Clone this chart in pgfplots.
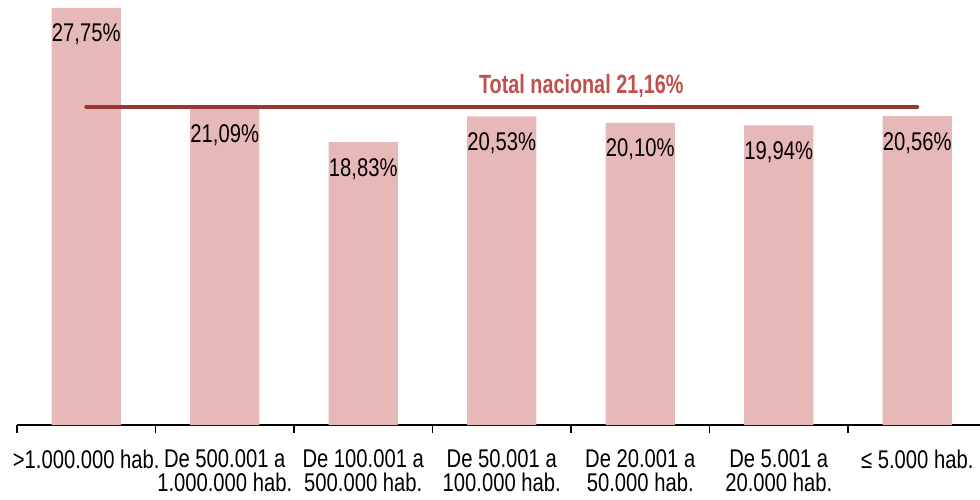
\documentclass[border=0pt]{standalone}
\usepackage{fontspec}
\setmainfont{Liberation Sans}
\newfontfamily\narrowfont[FakeStretch=0.79]{Liberation Sans}
\newfontfamily\narrowbold[FakeStretch=0.75]{Liberation Sans Bold}
\usepackage{pgfplots}
\pgfplotsset{compat=1.18}
\definecolor{barpink}{HTML}{E6B9B8}
\definecolor{linered}{HTML}{963735}
\definecolor{labred}{HTML}{C0504D}
\begin{document}
\begin{tikzpicture}
\useasboundingbox (-8.5pt,-37pt) rectangle (481.5pt,212.5pt);
\begin{axis}[
  at={(0,0)}, anchor=south west,
  scale only axis, width=481.5pt, height=212.5pt,
  xmin=-0.5, xmax=6.453, ymin=0, ymax=28.28,
  axis x line*=bottom, axis y line=none,
  axis line style={black, line width=0.75pt},
  ytick=\empty,
  xtick={0,1,2,3,4,5,6},
  xticklabels={{>1.000.000 hab.},{De 500.001 a\\1.000.000 hab.},{De 100.001 a\\500.000 hab.},{De 50.001 a\\100.000 hab.},{De 20.001 a\\50.000 hab.},{De 5.001 a\\20.000 hab.},{≤ 5.000 hab.}},
  major tick length=0pt,
  tick align=outside,
  extra x ticks={-0.5,0.5,1.5,2.5,3.5,4.5,5.5},
  extra x tick labels={},
  extra x tick style={major tick length=4pt, tick style={black, line width=0.75pt}},
  xticklabel style={align=center, anchor=north, inner sep=0pt, yshift=-12.3pt, font=\narrowfont\fontsize{12.8}{12}\selectfont},
  /pgf/number format/assume math mode=true,
  clip=false,
]
\addplot[ybar, bar width=0.5, fill=barpink, draw=none,
  nodes near coords={\pgfmathprintnumber[fixed,fixed zerofill,precision=2,use comma]{\pgfplotspointmeta}\%},
  every node near coord/.append style={anchor=base, yshift=-17pt, inner sep=0pt, font=\narrowfont\fontsize{12.8}{14}\selectfont, text=black}]
  coordinates {(0,27.75) (1,21.09) (2,18.83) (3,20.53) (4,20.10) (5,19.94) (6,20.56)};
\addplot[color=linered, line width=2pt, line cap=round, mark=none] coordinates {(0,21.16) (6,21.16)};
\node[anchor=base, text=labred, font=\narrowbold\fontsize{13.2}{14}\selectfont, inner sep=0pt] at (axis cs:3.574,22.03) {Total nacional 21,16\%};
\end{axis}
\end{tikzpicture}
\end{document}
